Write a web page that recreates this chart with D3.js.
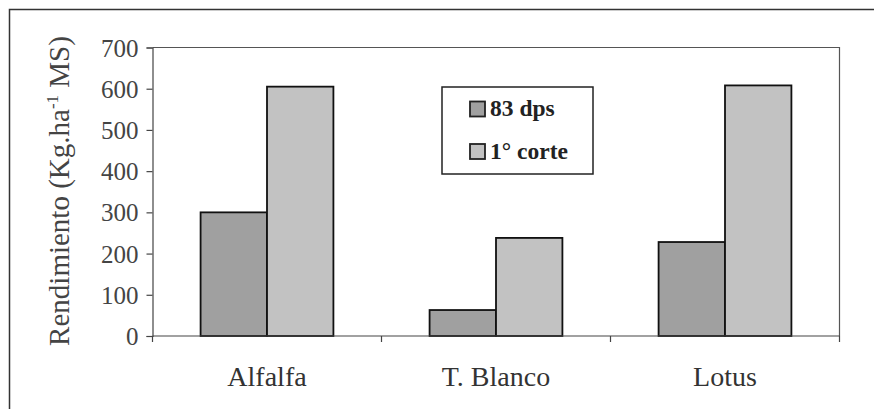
<!DOCTYPE html>
<html>
<head>
<meta charset="utf-8">
<script src="https://cdn.jsdelivr.net/npm/d3@7"></script>
<style>
  html, body { margin: 0; padding: 0; background: #fff; }
  svg { display: block; }
  svg text { font-family: 'Liberation Serif'; }
</style>
</head>
<body>
<svg id="chart" width="874" height="409"></svg>
<script>
// Forage yield by species at two sampling dates
const categories = ["Alfalfa", "T. Blanco", "Lotus"];
const seriesNames = ["83 dps", "1\u00b0 corte"];
const dps83 = [300, 63, 228];
const primerCorte = [605, 238, 608];
const yTicks = [0, 100, 200, 300, 400, 500, 600, 700];
const seriesColors = ["#a0a0a0", "#c2c2c2"];

const FONT = "Liberation Serif";
const svg = d3.select("#chart");
const W = 874, H = 409;
const plot = { left: 152.5, right: 839.5, top: 47.5, bottom: 336 };

const serif = sel => sel.style("font-family", FONT);

// Outer frame (continues past the right and bottom edges)
svg.append("rect")
  .attr("x", 9.5).attr("y", 9.5)
  .attr("width", W + 20).attr("height", H + 20)
  .attr("fill", "none").attr("stroke", "#333").attr("stroke-width", 1.5);

const y = d3.scaleLinear().domain([0, 700]).range([plot.bottom, plot.top]);
const x0 = d3.scaleBand().domain(categories).range([plot.left, plot.right]).padding(0);
const groupW = x0.bandwidth() * 0.58;
const x1 = d3.scaleBand().domain(seriesNames).range([0, groupW]).padding(0);

// Plot-area border on top and right
svg.append("path")
  .attr("d", `M${plot.left},${plot.top}H${plot.right}V${plot.bottom}`)
  .attr("fill", "none").attr("stroke", "#555").attr("stroke-width", 1.2);

const rows = categories.map((c, i) => ({ cat: c, vals: [dps83[i], primerCorte[i]] }));

const groups = svg.append("g").selectAll("g")
  .data(rows).join("g")
  .attr("transform", d => `translate(${x0(d.cat) + (x0.bandwidth() - groupW) / 2},0)`);

groups.selectAll("rect")
  .data(d => d.vals.map((v, j) => ({ s: seriesNames[j], v, j })))
  .join("rect")
  .attr("x", d => x1(d.s))
  .attr("y", d => y(d.v))
  .attr("width", x1.bandwidth())
  .attr("height", d => y(0) - y(d.v))
  .attr("fill", d => seriesColors[d.j])
  .attr("stroke", "#111").attr("stroke-width", 1.8);

// Y axis
const yAxis = d3.axisLeft(y).tickValues(yTicks).tickSize(6).tickPadding(8);
const gy = svg.append("g").attr("transform", `translate(${plot.left},0)`).call(yAxis);
gy.attr("font-family", FONT).attr("font-size", 25);
gy.select(".domain").attr("stroke", "#444").attr("stroke-width", 1.2);
gy.selectAll(".tick line").attr("stroke", "#444").attr("stroke-width", 1.2);
gy.selectAll(".tick text").call(serif)
  .style("font-size", "25px").attr("fill", "#444").attr("dy", "0.34em");

// X axis: category boundaries ticked below the baseline
const xEdges = categories.map(c => x0(c)).concat([plot.right]);
svg.append("line")
  .attr("x1", plot.left).attr("x2", plot.right)
  .attr("y1", plot.bottom).attr("y2", plot.bottom)
  .attr("stroke", "#444").attr("stroke-width", 1.2);
svg.append("g").selectAll("line")
  .data(xEdges).join("line")
  .attr("x1", d => d).attr("x2", d => d)
  .attr("y1", plot.bottom).attr("y2", plot.bottom + 6)
  .attr("stroke", "#444").attr("stroke-width", 1.2);
svg.append("g").selectAll("text")
  .data(categories).join("text")
  .attr("x", d => x0(d) + x0.bandwidth() / 2)
  .attr("y", 386)
  .attr("text-anchor", "middle")
  .call(serif)
  .style("font-size", "28px").attr("fill", "#333")
  .text(d => d);

// Y axis title
const title = svg.append("text")
  .attr("transform", "translate(69,191) rotate(-90)")
  .attr("text-anchor", "middle")
  .call(serif)
  .style("font-size", "29px").attr("fill", "#444");
title.append("tspan").text("Rendimiento (Kg.ha");
title.append("tspan").attr("dy", -11).style("font-size", "17px").text("-1");
title.append("tspan").attr("dy", 11).text(" MS)");

// Legend
const lg = svg.append("g");
lg.append("rect")
  .attr("x", 442).attr("y", 87).attr("width", 151).attr("height", 87)
  .attr("fill", "#fff").attr("stroke", "#222").attr("stroke-width", 1.5);
seriesNames.forEach((s, i) => {
  const cy = 109 + i * 42.5;
  lg.append("rect")
    .attr("x", 470).attr("y", cy - 7.5).attr("width", 15).attr("height", 15)
    .attr("fill", seriesColors[i]).attr("stroke", "#222").attr("stroke-width", 1.8);
  lg.append("text")
    .attr("x", 490).attr("y", cy + 7)
    .call(serif)
    .style("font-size", "23.5px").style("font-weight", "bold").attr("fill", "#222")
    .text(s);
});
</script>
</body>
</html>
